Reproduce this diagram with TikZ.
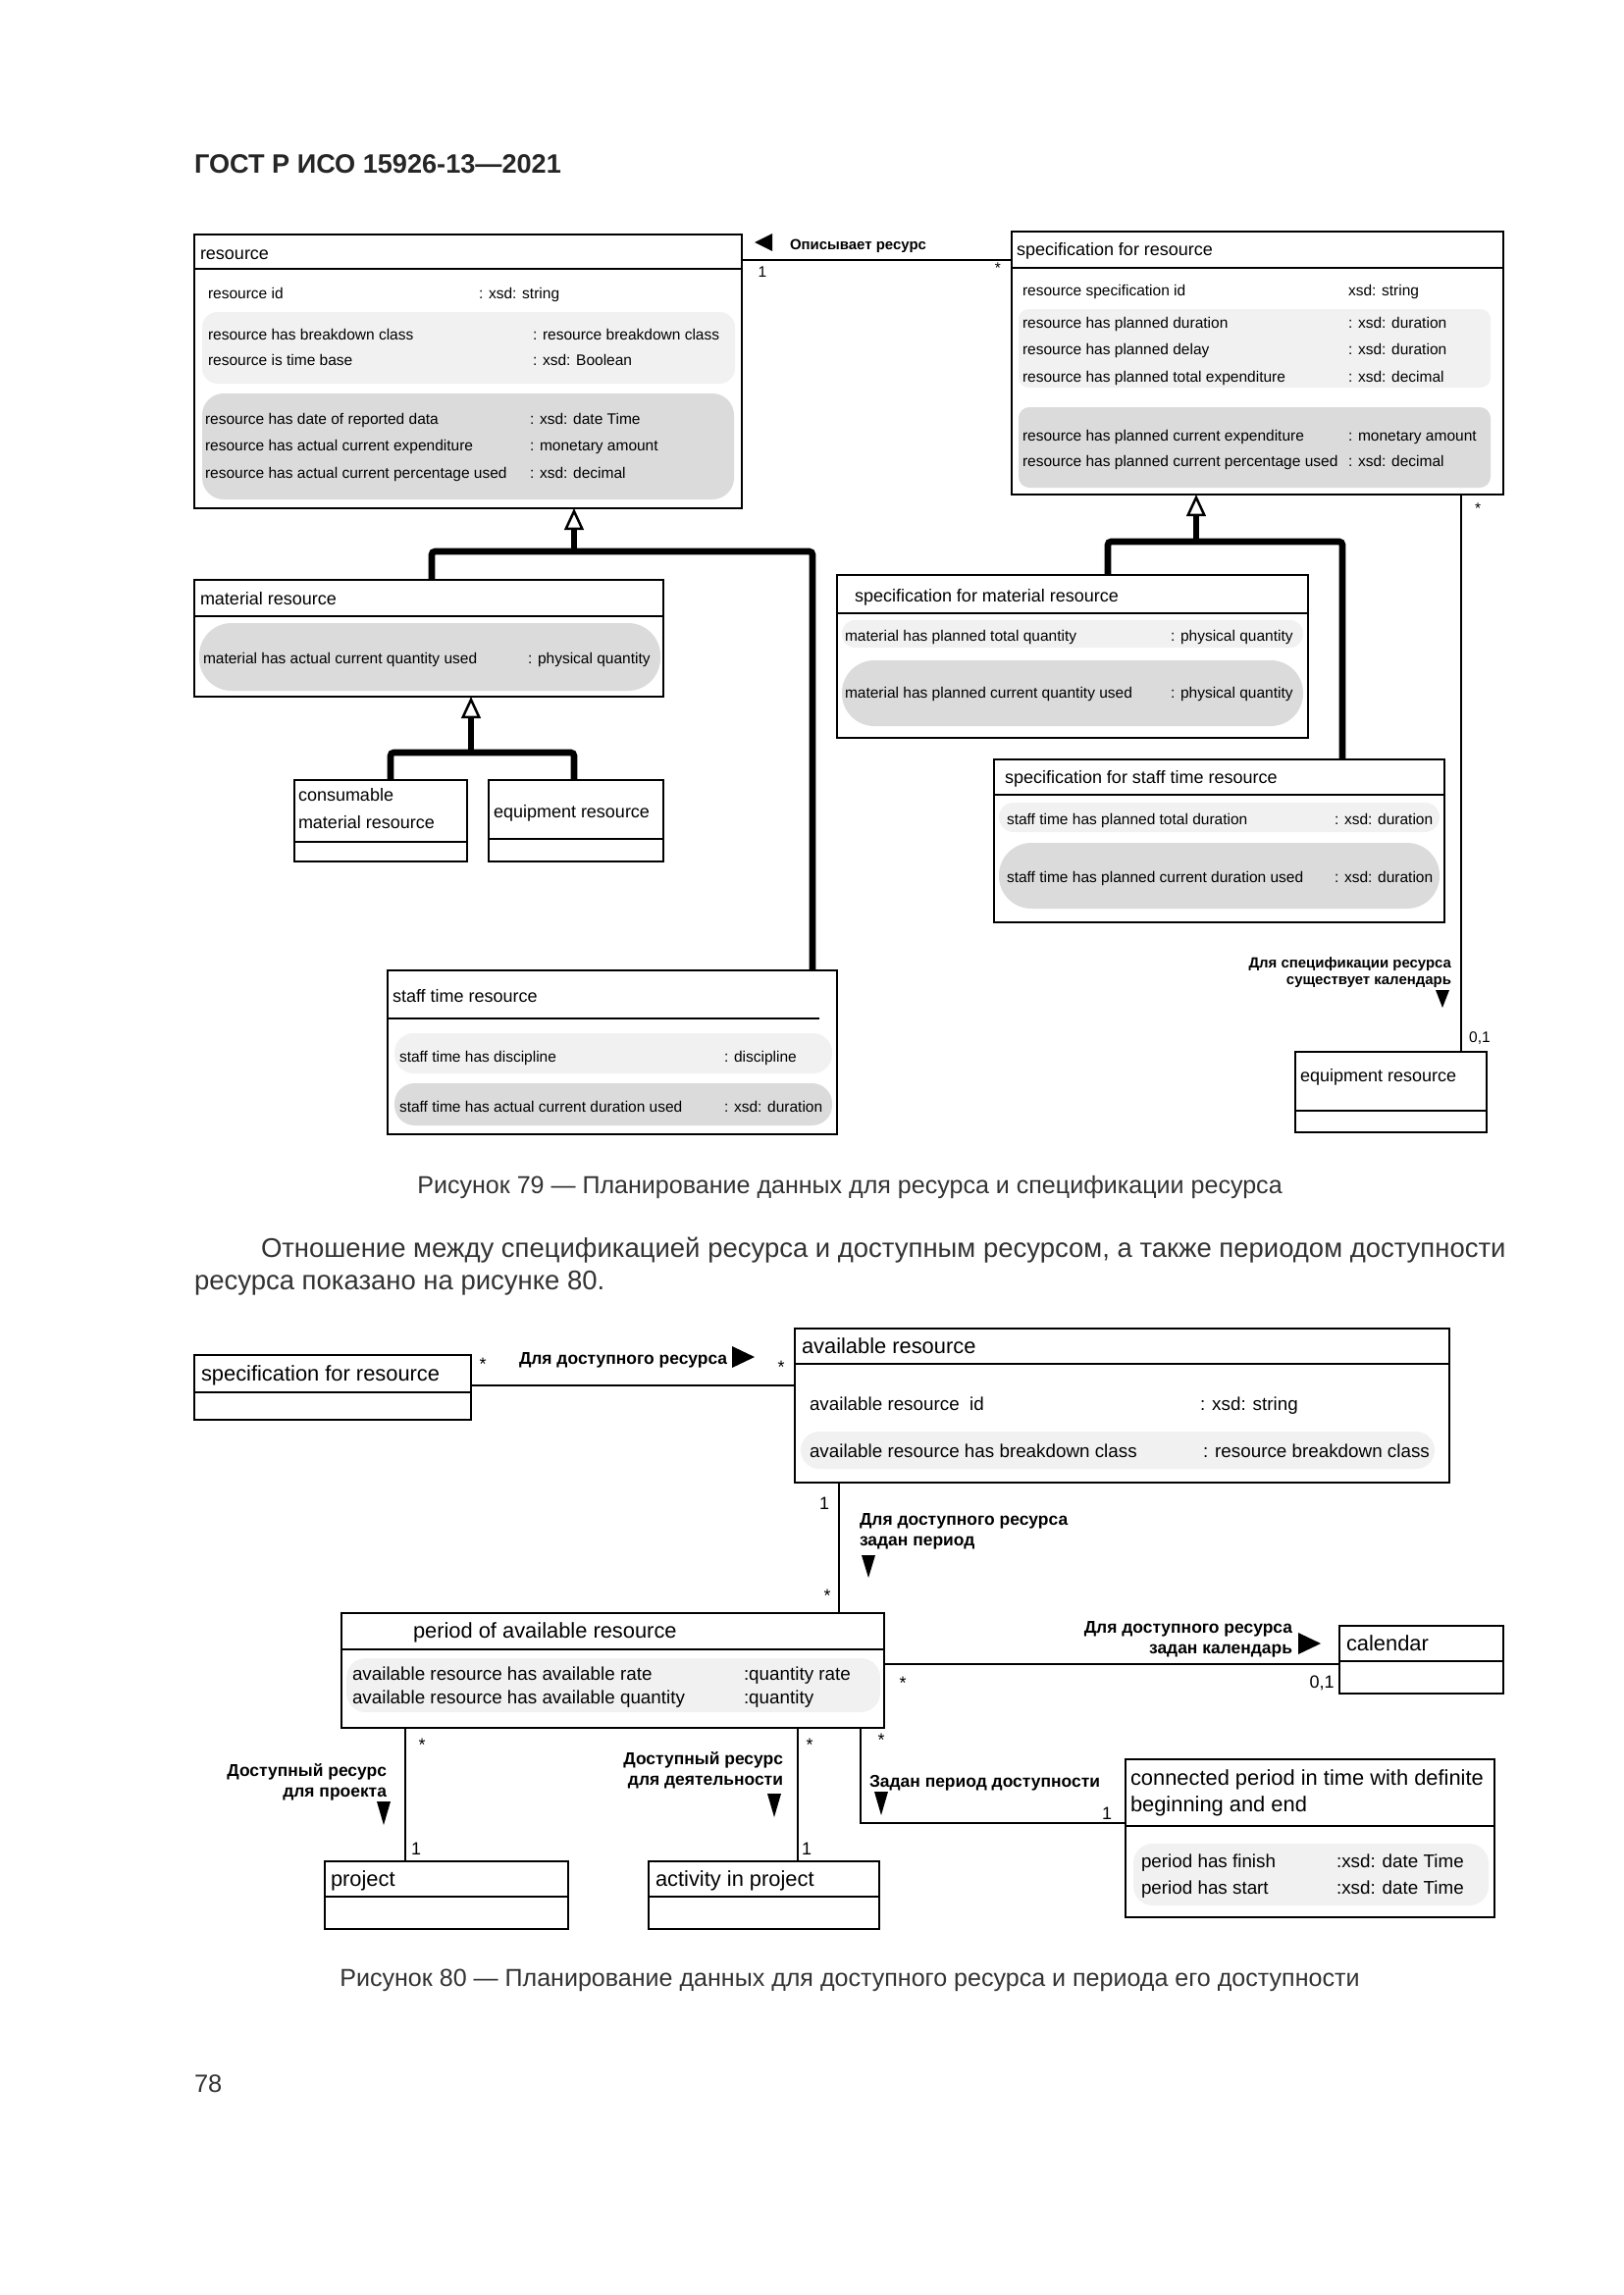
\documentclass[tikz,border=0pt]{standalone}
\usepackage{fontspec}
\setmainfont{Liberation Sans}
\usetikzlibrary{arrows.meta,fit}
\definecolor{grplight}{gray}{0.945}
\definecolor{grpdark}{gray}{0.86}
\begin{document}
\begin{tikzpicture}[x=0.12697mm,y=-0.12697mm,
  every node/.style={inner sep=0pt,outer sep=0pt},
  cls/.style={draw,line width=0.95pt,inner sep=0pt},
  sepline/.style={line width=0.95pt},
  ttl/.style={anchor=mid west,font=\fontsize{6.5}{7.8}\selectfont},
  att/.style={anchor=mid west,font=\fontsize{5.6}{6.7}\selectfont},
  ttlb/.style={anchor=mid west,font=\fontsize{7.9}{9.7}\selectfont},
  attb/.style={anchor=mid west,font=\fontsize{6.8}{8}\selectfont},
  grpa/.style={fill=grplight,rounded corners=#1},
  grpb/.style={fill=grpdark,rounded corners=#1},
  gen/.style={line width=2.4pt,rounded corners=1.2pt},
  genhead/.style={line width=2.4pt,-{Triangle[open,length=2.8mm,width=2.5mm,line width=0.9pt]}},
  assoc/.style={line width=0.7pt},
  lbl/.style={font=\bfseries\fontsize{5.4}{6.1}\selectfont,align=right},
  lblb/.style={font=\bfseries\fontsize{6.3}{7.9}\selectfont},
  mult/.style={font=\fontsize{5.6}{6.7}\selectfont},
  multb/.style={font=\fontsize{6.5}{7.8}\selectfont},
  capt/.style={font=\fontsize{9.05}{11}\selectfont,text=black!80},
  para/.style={anchor=mid west,font=\fontsize{9.93}{12}\selectfont,text=black!80}
]
\fill[white] (0,0) rectangle (1654,2339);
\useasboundingbox (0,0) rectangle (1654,2339);

\node[anchor=base west,font=\bfseries\fontsize{9.8}{12}\selectfont,text=black!85] (hdr) at (198,177) {ГОСТ Р ИСО 15926-13—2021};

% ---------------- Figure 79 ----------------
% resource
\fill[grpa=2mm] (206,318) rectangle (749,391);
\fill[grpb=2.8mm] (206,401) rectangle (748,509);
\node[cls,fit={(198,239)(756,518)}] (res) {};
\draw[sepline] (res.west |- 0,274) -- (res.east |- 0,274);
\node[ttl] (res-t) at (204,257) {resource};
\node[att] (res-a1) at (212,297) {resource id};
\node[att] (res-v1) at (488,297) {: xsd: string};
\node[att] (res-a2) at (212,339) {resource has breakdown class};
\node[att] (res-v2) at (543,339) {: resource breakdown class};
\node[att] (res-a3) at (212,365) {resource is time base};
\node[att] (res-v3) at (543,365) {: xsd: Boolean};
\node[att] (res-a4) at (209,425) {resource has date of reported data};
\node[att] (res-v4) at (540,425) {: xsd: date Time};
\node[att] (res-a5) at (209,452) {resource has actual current expenditure};
\node[att] (res-v5) at (540,452) {: monetary amount};
\node[att] (res-a6) at (209,480) {resource has actual current percentage used};
\node[att] (res-v6) at (540,480) {: xsd: decimal};

% specification for resource
\fill[grpa=1.3mm] (1038,315) rectangle (1519,395);
\fill[grpb=1.4mm] (1038,415) rectangle (1519,497);
\node[cls,fit={(1031,236)(1532,504)}] (specres) {};
\draw[sepline] (specres.west |- 0,273) -- (specres.east |- 0,273);
\node[ttl] (specres-t) at (1036,253) {specification for resource};
\node[att] (specres-a1) at (1042,294) {resource specification id};
\node[att] (specres-v1) at (1374,294) {xsd: string};
\node[att] (specres-a2) at (1042,327) {resource has planned duration};
\node[att] (specres-v2) at (1374,327) {: xsd: duration};
\node[att] (specres-a3) at (1042,354) {resource has planned delay};
\node[att] (specres-v3) at (1374,354) {: xsd: duration};
\node[att] (specres-a4) at (1042,382) {resource has planned total expenditure};
\node[att] (specres-v4) at (1374,382) {: xsd: decimal};
\node[att] (specres-a5) at (1042,442) {resource has planned current expenditure};
\node[att] (specres-v5) at (1374,442) {: monetary amount};
\node[att] (specres-a6) at (1042,468) {resource has planned current percentage used};
\node[att] (specres-v6) at (1374,468) {: xsd: decimal};

% resource -- specification
\draw[assoc] (res.east |- 0,265) -- (specres.west |- 0,265);
\node[lbl,anchor=mid west] (l-desc) at (805,247) {Описывает ресурс};
\fill (769,247) -- (787,238) -- (787,256) -- cycle;
\node[mult] (m-desc1) at (777,277) {1};
\node[mult] (m-desc2) at (1017,273) {*};

% material resource
\fill[grpb=4.2mm] (203,635) rectangle (673,704);
\node[cls,fit={(198,591)(676,710)}] (matres) {};
\draw[sepline] (matres.west |- 0,628) -- (matres.east |- 0,628);
\node[ttl] (matres-t) at (204,609) {material resource};
\node[att] (matres-a1) at (207,669) {material has actual current quantity used};
\node[att] (matres-v1) at (538,669) {: physical quantity};

% consumable and equipment
\node[cls,fit={(300,795)(476,878)}] (cons) {};
\draw[sepline] (cons.west |- 0,858) -- (cons.east |- 0,858);
\node[anchor=north west,align=left,font=\fontsize{6.5}{10.4}\selectfont] (cons-t) at (304,803) {consumable\\material resource};
\node[cls,fit={(498,795)(676,878)}] (equip1) {};
\draw[sepline] (equip1.west |- 0,855) -- (equip1.east |- 0,855);
\node[ttl] (equip1-t) at (503,826) {equipment resource};

% staff time resource
\fill[grpa=2.5mm] (402,1053) rectangle (848,1094);
\fill[grpb=2.6mm] (402,1104) rectangle (848,1147);
\node[cls,fit={(395,989)(853,1156)}] (staff) {};
\draw[sepline] (staff.west |- 0,1038) -- (835,1038);
\node[ttl] (staff-t) at (400,1014) {staff time resource};
\node[att] (staff-a1) at (407,1075) {staff time has discipline};
\node[att] (staff-v1) at (738,1075) {: discipline};
\node[att] (staff-a2) at (407,1126) {staff time has actual current duration used};
\node[att] (staff-v2) at (738,1126) {: xsd: duration};

% specification for material resource
\fill[grpa=1.7mm] (858,632) rectangle (1328,660);
\fill[grpb=4.2mm] (858,673) rectangle (1328,740);
\node[cls,fit={(853,586)(1333,752)}] (specmat) {};
\draw[sepline] (specmat.west |- 0,625) -- (specmat.east |- 0,625);
\node[ttl] (specmat-t) at (871,606) {specification for material resource};
\node[att] (specmat-a1) at (861,646) {material has planned total quantity};
\node[att] (specmat-v1) at (1193,646) {: physical quantity};
\node[att] (specmat-a2) at (861,704) {material has planned current quantity used};
\node[att] (specmat-v2) at (1193,704) {: physical quantity};

% specification for staff time resource
\fill[grpa=1.9mm] (1018,818) rectangle (1467,848);
\fill[grpb=4.2mm] (1018,859) rectangle (1467,926);
\node[cls,fit={(1013,774)(1472,940)}] (specstaff) {};
\draw[sepline] (specstaff.west |- 0,810) -- (specstaff.east |- 0,810);
\node[ttl] (specstaff-t) at (1024,791) {specification for staff time resource};
\node[att] (specstaff-a1) at (1026,833) {staff time has planned total duration};
\node[att] (specstaff-v1) at (1360,833) {: xsd: duration};
\node[att] (specstaff-a2) at (1026,892) {staff time has planned current duration used};
\node[att] (specstaff-v2) at (1360,892) {: xsd: duration};

% generalisations
\draw[gen] (matres.north -| 440,0) |- (828,562) -- (staff.north -| 828,0);
\draw[genhead] (585,562) -- (res.south -| 585,0);
\draw[gen] (cons.north -| 398,0) |- (585,767) -- (equip1.north -| 585,0);
\draw[genhead] (480,767) -- (matres.south -| 480,0);
\draw[gen] (specmat.north -| 1129,0) |- (1368,552) -- (specstaff.north -| 1368,0);
\draw[genhead] (1219,552) -- (specres.south -| 1219,0);

% equipment resource (calendar side)
\node[cls,fit={(1320,1072)(1515,1154)}] (equip2) {};
\draw[sepline] (equip2.west |- 0,1132) -- (equip2.east |- 0,1132);
\node[ttl] (equip2-t) at (1325,1095) {equipment resource};
\draw[assoc] (specres.south -| 1489,0) -- (equip2.north -| 1489,0);
\node[mult] (m-cal1) at (1506,518) {*};
\node[lbl,anchor=north east] (l-cal) at (1479,976) {Для спецификации ресурса\\существует календарь};
\fill (1463,1009) -- (1477,1009) -- (1470,1027) -- cycle;
\node[mult] (m-cal2) at (1508,1058) {0,1};

\node[capt] (cap79) at (866,1210) {Рисунок 79 — Планирование данных для ресурса и спецификации ресурса};

\node[para] (par1) at (266,1274) {Отношение между спецификацией ресурса и доступным ресурсом, а также периодом доступности};
\node[para] (par2) at (198,1307) {ресурса показано на рисунке 80.};

% ---------------- Figure 80 ----------------
% specification for resource
\node[cls,fit={(198,1381)(480,1447)}] (specres2) {};
\draw[sepline] (specres2.west |- 0,1419) -- (specres2.east |- 0,1419);
\node[ttlb] (specres2-t) at (205,1400) {specification for resource};

% available resource
\fill[grpa=2.4mm] (816,1459) rectangle (1462,1497);
\node[cls,fit={(810,1354)(1477,1511)}] (avres) {};
\draw[sepline] (avres.west |- 0,1390) -- (avres.east |- 0,1390);
\node[ttlb] (avres-t) at (817,1372) {available resource};
\node[attb] (avres-a1) at (825,1430) {available resource\ \ id};
\node[attb] (avres-v1) at (1223,1430) {: xsd: string};
\node[attb] (avres-a2) at (825,1478) {available resource has breakdown class};
\node[attb] (avres-v2) at (1226,1478) {: resource breakdown class};

\draw[assoc] (specres2.east |- 0,1412) -- (avres.west |- 0,1412);
\node[lblb,anchor=mid west] (l-av) at (529,1383) {Для доступного ресурса};
\fill (746,1372) -- (769,1383) -- (746,1394) -- cycle;
\node[multb] (m-av1) at (492,1390) {*};
\node[multb] (m-av2) at (796,1393) {*};

% period of available resource
\fill[grpa=2.5mm] (353,1690) rectangle (897,1745);
\node[cls,fit={(348,1644)(901,1761)}] (period) {};
\draw[sepline] (period.west |- 0,1681) -- (period.east |- 0,1681);
\node[ttlb] (period-t) at (421,1662) {period of available resource};
\node[attb] (period-a1) at (359,1705) {available resource has available rate};
\node[attb] (period-v1) at (758,1705) {:quantity rate};
\node[attb] (period-a2) at (359,1729) {available resource has available quantity};
\node[attb] (period-v2) at (758,1729) {:quantity};

\draw[assoc] (avres.south -| 855,0) -- (period.north -| 855,0);
\node[multb] (m-per1) at (840,1532) {1};
\node[multb] (m-per2) at (843,1626) {*};
\node[lblb,anchor=north west,align=left] (l-per) at (876,1542) {Для доступного ресурса\\задан период};
\fill (878,1585) -- (892,1585) -- (885,1608) -- cycle;

% calendar
\node[cls,fit={(1365,1657)(1532,1726)}] (calendar) {};
\draw[sepline] (calendar.west |- 0,1693) -- (calendar.east |- 0,1693);
\node[ttlb] (calendar-t) at (1372,1675) {calendar};
\draw[assoc] (period.east |- 0,1696) -- (calendar.west |- 0,1696);
\node[lblb,anchor=north east,align=right] (l-calb) at (1317,1652) {Для доступного ресурса\\задан календарь};
\fill (1323,1664) -- (1346,1675) -- (1323,1686) -- cycle;
\node[multb] (m-calb1) at (920,1715) {*};
\node[multb] (m-calb2) at (1347,1715) {0,1};

% project
\node[cls,fit={(331,1897)(579,1966)}] (project) {};
\draw[sepline] (project.west |- 0,1933) -- (project.east |- 0,1933);
\node[ttlb] (project-t) at (337,1915) {project};
\draw[assoc] (period.south -| 413,0) -- (project.north -| 413,0);
\node[multb] (m-prj1) at (430,1778) {*};
\node[multb] (m-prj2) at (424,1884) {1};
\node[lblb,anchor=north east,align=right] (l-prj) at (394,1797) {Доступный ресурс\\для проекта};
\fill (384,1836) -- (398,1836) -- (391,1860) -- cycle;

% activity in project
\node[cls,fit={(661,1897)(896,1966)}] (activity) {};
\draw[sepline] (activity.west |- 0,1933) -- (activity.east |- 0,1933);
\node[ttlb] (activity-t) at (668,1915) {activity in project};
\draw[assoc] (period.south -| 813,0) -- (activity.north -| 813,0);
\node[multb] (m-act1) at (825,1778) {*};
\node[multb] (m-act2) at (822,1884) {1};
\node[lblb,anchor=north east,align=right] (l-act) at (798,1785) {Доступный ресурс\\для деятельности};
\fill (782,1828) -- (796,1828) -- (789,1852) -- cycle;

% connected period in time
\fill[grpa=2.5mm] (1155,1879) rectangle (1517,1942);
\node[cls,fit={(1147,1793)(1523,1954)}] (conn) {};
\draw[sepline] (conn.west |- 0,1861) -- (conn.east |- 0,1861);
\node[anchor=north west,align=left,font=\fontsize{7.9}{9.7}\selectfont] (conn-t) at (1152,1804) {connected period in time with definite\\beginning and end};
\node[attb] (conn-a1) at (1163,1896) {period has finish};
\node[attb] (conn-v1) at (1362,1896) {:xsd: date Time};
\node[attb] (conn-a2) at (1163,1923) {period has start};
\node[attb] (conn-v2) at (1362,1923) {:xsd: date Time};
\draw[assoc] (period.south -| 877,0) |- (conn.west |- 0,1858);
\node[multb] (m-conn1) at (898,1773) {*};
\node[multb] (m-conn2) at (1128,1848) {1};
\node[lblb,anchor=mid west] (l-conn) at (886,1814) {Задан период доступности};
\fill (891,1826) -- (905,1826) -- (898,1850) -- cycle;

\node[capt] (cap80) at (866,2018) {Рисунок 80 — Планирование данных для доступного ресурса и периода его доступности};

\node[para,font=\fontsize{9.2}{11}\selectfont] (pgno) at (198,2125) {78};
\end{tikzpicture}
\end{document}
